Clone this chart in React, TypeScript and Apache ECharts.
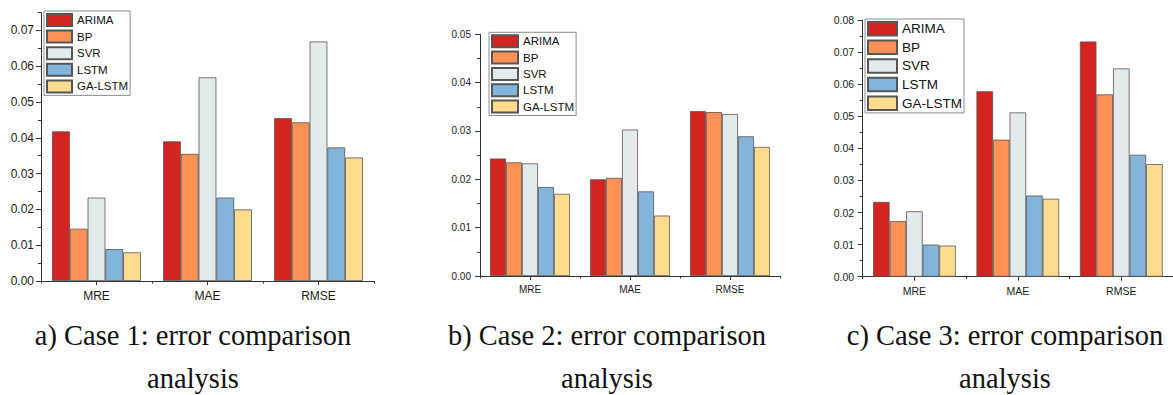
import React, { useEffect, useRef } from "react";
import * as echarts from "echarts";

// Error metrics and forecasting models
const metrics = ["MRE", "MAE", "RMSE"];
const models = ["ARIMA", "BP", "SVR", "LSTM", "GA-LSTM"];
const modelColors = ["#d3241f", "#fe9156", "#e2eaee", "#83b4db", "#fedb8d"];

// Case 1 (values per model, ordered MRE, MAE, RMSE)
const case1ARIMA = [0.0418, 0.039, 0.0455];
const case1BP = [0.0146, 0.0355, 0.0443];
const case1SVR = [0.0233, 0.0569, 0.0669];
const case1LSTM = [0.0089, 0.0233, 0.0373];
const case1GALSTM = [0.008, 0.02, 0.0345];

// Case 2
const case2ARIMA = [0.0243, 0.02, 0.0341];
const case2BP = [0.0235, 0.0203, 0.0339];
const case2SVR = [0.0233, 0.0303, 0.0335];
const case2LSTM = [0.0184, 0.0175, 0.0289];
const case2GALSTM = [0.017, 0.0125, 0.0267];

// Case 3
const case3ARIMA = [0.0233, 0.0578, 0.0733];
const case3BP = [0.0173, 0.0427, 0.0568];
const case3SVR = [0.0204, 0.0512, 0.0649];
const case3LSTM = [0.01, 0.0253, 0.038];
const case3GALSTM = [0.0097, 0.0243, 0.0351];

// Major tick labels of each value axis
const case1Ticks = [0, 0.01, 0.02, 0.03, 0.04, 0.05, 0.06, 0.07];
const case2Ticks = [0, 0.01, 0.02, 0.03, 0.04, 0.05];
const case3Ticks = [0, 0.01, 0.02, 0.03, 0.04, 0.05, 0.06, 0.07, 0.08];

const captions = [
  "a) Case 1: error comparison",
  "b) Case 2: error comparison",
  "c) Case 3: error comparison",
];
const captionLine2 = "analysis";

const SANS = "'Liberation Sans', Arial, sans-serif";
const SERIF = "'Liberation Serif', 'Times New Roman', serif";

type Panel = {
  grid: { left: number; top: number; width: number; height: number };
  yMax: number;
  ticks: number[];
  series: number[][];
  fontSize: number;
  yLabelMargin: number;
  xLabelMargin: number;
  legend: { left: number; top: number; itemWidth: number; itemHeight: number; itemGap: number; fontSize: number };
};

const panels: Panel[] = [
  {
    grid: { left: 41, top: 12.5, width: 333, height: 268.5 },
    yMax: 0.075,
    ticks: case1Ticks,
    series: [case1ARIMA, case1BP, case1SVR, case1LSTM, case1GALSTM],
    fontSize: 12,
    yLabelMargin: 7,
    xLabelMargin: 9,
    legend: { left: 44, top: 11, itemWidth: 25, itemHeight: 12, itemGap: 2.6, fontSize: 11.5 },
  },
  {
    grid: { left: 480, top: 34.3, width: 300, height: 241.7 },
    yMax: 0.05,
    ticks: case2Ticks,
    series: [case2ARIMA, case2BP, case2SVR, case2LSTM, case2GALSTM],
    fontSize: 10,
    yLabelMargin: 9,
    xLabelMargin: 8,
    legend: { left: 489, top: 32.3, itemWidth: 26, itemHeight: 12, itemGap: 2.3, fontSize: 11.5 },
  },
  {
    grid: { left: 862.7, top: 20, width: 321, height: 256.7 },
    yMax: 0.08,
    ticks: case3Ticks,
    series: [case3ARIMA, case3BP, case3SVR, case3LSTM, case3GALSTM],
    fontSize: 10.5,
    yLabelMargin: 8.5,
    xLabelMargin: 9,
    legend: { left: 865, top: 19, itemWidth: 29, itemHeight: 13.5, itemGap: 3.1, fontSize: 13.5 },
  },
];

const captionCenters = [193, 607, 1005];

function buildOption() {
  const grid: any[] = [];
  const xAxis: any[] = [];
  const yAxis: any[] = [];
  const series: any[] = [];
  const legend: any[] = [];
  const graphic: any[] = [];

  panels.forEach((p, gi) => {
    grid.push({ ...p.grid, containLabel: false });

    // category axis: line, labels and short ticks on group boundaries
    const xMain = xAxis.length;
    xAxis.push({
      type: "category",
      gridIndex: gi,
      position: "bottom",
      data: metrics,
      axisLine: { onZero: false, lineStyle: { color: "#333", width: 1 } },
      axisTick: { show: true, length: 2.5, alignWithLabel: false, lineStyle: { color: "#333" } },
      axisLabel: { margin: p.xLabelMargin, color: "#1a1a1a", fontFamily: SANS, fontSize: p.fontSize },
      splitLine: { show: false },
    });
    // centre ticks under each metric
    xAxis.push({
      type: "category",
      gridIndex: gi,
      position: "bottom",
      data: metrics,
      axisLine: { show: false, onZero: false },
      axisTick: { show: true, length: 4, alignWithLabel: true, lineStyle: { color: "#333" } },
      axisLabel: { show: false },
      splitLine: { show: false },
    });

    const yMain = yAxis.length;
    yAxis.push({
      type: "value",
      gridIndex: gi,
      position: "left",
      min: 0,
      max: p.yMax,
      interval: 0.01,
      axisLine: { show: true, onZero: false, lineStyle: { color: "#333", width: 1 } },
      axisTick: { show: true, length: 5, customValues: p.ticks, lineStyle: { color: "#333" } },
      axisLabel: {
        customValues: p.ticks,
        margin: p.yLabelMargin,
        color: "#1a1a1a",
        fontFamily: SANS,
        fontSize: p.fontSize,
        formatter: (v: number) => v.toFixed(2),
      },
      splitLine: { show: false },
    });
    // minor ticks every 0.005
    yAxis.push({
      type: "value",
      gridIndex: gi,
      position: "left",
      min: 0,
      max: p.yMax,
      interval: 0.005,
      axisLine: { show: false },
      axisTick: { show: true, length: 3, lineStyle: { color: "#333" } },
      axisLabel: { show: false },
      splitLine: { show: false },
    });

    p.series.forEach((vals, mi) => {
      series.push({
        type: "bar",
        name: models[mi],
        xAxisIndex: xMain,
        yAxisIndex: yMain,
        data: vals,
        barGap: "0%",
        barCategoryGap: "20%",
        itemStyle: { color: modelColors[mi], borderColor: "#555", borderWidth: 0.8 },
        emphasis: { disabled: true },
      });
    });

    legend.push({
      orient: "vertical",
      left: p.legend.left,
      top: p.legend.top,
      data: models,
      icon: "rect",
      itemWidth: p.legend.itemWidth,
      itemHeight: p.legend.itemHeight,
      itemGap: p.legend.itemGap,
      padding: [2, 2, 2, 2],
      selectedMode: false,
      backgroundColor: "#fff",
      borderColor: "#8c8c8c",
      borderWidth: 1,
      textStyle: { color: "#111", fontFamily: SANS, fontSize: p.legend.fontSize },
    });

    graphic.push({
      type: "text",
      x: captionCenters[gi],
      y: 335,
      scaleX: 0.95,
      style: {
        x: 0,
        y: 0,
        text: captions[gi],
        font: `30px ${SERIF}`,
        fill: "#111",
        textAlign: "center",
        textVerticalAlign: "middle",
      },
    });
    graphic.push({
      type: "text",
      x: captionCenters[gi],
      y: 378,
      scaleX: 0.95,
      style: {
        x: 0,
        y: 0,
        text: captionLine2,
        font: `30px ${SERIF}`,
        fill: "#111",
        textAlign: "center",
        textVerticalAlign: "middle",
      },
    });
  });

  return {
    animation: false,
    backgroundColor: "#fff",
    grid,
    xAxis,
    yAxis,
    series,
    legend,
    graphic,
  };
}

export default function App() {
  const ref = useRef<HTMLDivElement>(null);

  useEffect(() => {
    document.body.style.margin = "0";
    if (!ref.current) return;
    const chart = echarts.init(ref.current, null, { renderer: "svg" });
    chart.setOption(buildOption() as any);
    return () => chart.dispose();
  }, []);

  return <div ref={ref} style={{ width: 1173, height: 395 }} />;
}
